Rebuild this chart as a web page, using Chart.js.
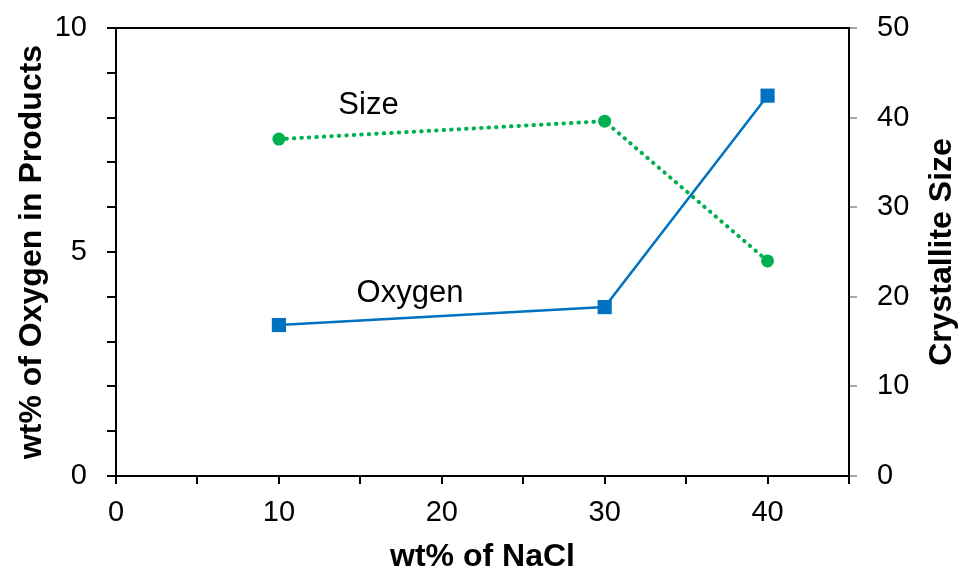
<!DOCTYPE html>
<html>
<head>
<meta charset="utf-8">
<script src="https://cdn.jsdelivr.net/npm/chart.js@4"></script>
<style>
  html, body { margin: 0; padding: 0; background: #fff; }
  canvas { display: block; }
</style>
</head>
<body>
<canvas id="chart" width="959" height="573"></canvas>
<script>
/* ── data ── */
const naclPct = [10, 30, 40];
const oxygenPct = [3.37, 3.77, 8.49];
const crystalliteSize = [37.6, 39.6, 24.0];

const xTitle = 'wt% of NaCl';
const yLeftTitle = 'wt% of Oxygen in Products';
const yRightTitle = 'Crystallite Size';

// in-plot series labels, positioned in data units
const seriesLabels = [
  { text: 'Size', x: 15.5, y: 41.4, axis: 'y2' },
  { text: 'Oxygen', x: 18.05, y: 4.08, axis: 'y' }
];

const BLUE = '#0070C0';
const GREEN = '#00B050';
const FONT = "'Liberation Sans', Arial, sans-serif";

/* frame top line, axis titles and the in-plot labels */
const extras = {
  id: 'extras',
  afterDraw(chart) {
    const { ctx, chartArea: a, scales } = chart;
    ctx.save();
    ctx.strokeStyle = '#000';
    ctx.lineWidth = 2;
    ctx.beginPath();
    ctx.moveTo(a.left - 1, a.top);
    ctx.lineTo(a.right + 1, a.top);
    ctx.stroke();

    ctx.fillStyle = '#000';
    ctx.textAlign = 'center';
    ctx.textBaseline = 'middle';
    ctx.font = 'bold 32px ' + FONT;
    const midY = (a.top + a.bottom) / 2;
    ctx.fillText(xTitle, (a.left + a.right) / 2, 557);

    ctx.save();
    ctx.translate(32, midY);
    ctx.rotate(-Math.PI / 2);
    ctx.fillText(yLeftTitle, 0, 0);
    ctx.restore();

    ctx.save();
    ctx.translate(942, midY);
    ctx.rotate(-Math.PI / 2);
    ctx.fillText(yRightTitle, 0, 0);
    ctx.restore();

    ctx.font = '31px ' + FONT;
    seriesLabels.forEach(l => {
      ctx.fillText(l.text, scales.x.getPixelForValue(l.x), scales[l.axis].getPixelForValue(l.y));
    });
    ctx.restore();
  }
};

const tickFont = { family: FONT, size: 29 };

function fixWidth(w) {
  return s => { s.width = w; s.paddingTop = 0; s.paddingBottom = 0; };
}

new Chart(document.getElementById('chart'), {
  type: 'line',
  data: {
    datasets: [
      {
        label: 'Oxygen',
        data: naclPct.map((x, i) => ({ x, y: oxygenPct[i] })),
        yAxisID: 'y',
        borderColor: BLUE,
        backgroundColor: BLUE,
        borderWidth: 2.5,
        pointStyle: 'rect',
        pointRadius: 10,
        pointBorderWidth: 0,
        tension: 0,
        fill: false
      },
      {
        label: 'Size',
        data: naclPct.map((x, i) => ({ x, y: crystalliteSize[i] })),
        yAxisID: 'y2',
        borderColor: GREEN,
        backgroundColor: GREEN,
        borderWidth: 4,
        borderDash: [0.5, 7],
        borderCapStyle: 'round',
        pointStyle: 'circle',
        pointRadius: 6.5,
        pointBorderWidth: 0,
        tension: 0,
        fill: false
      }
    ]
  },
  options: {
    responsive: false,
    animation: false,
    layout: { padding: { top: 28, left: 0, right: 0, bottom: 0 } },
    plugins: { legend: { display: false }, tooltip: { enabled: false } },
    scales: {
      x: {
        type: 'linear',
        position: 'bottom',
        min: 0, max: 45,
        afterFit: s => { s.height = 97; s.paddingLeft = 0; s.paddingRight = 0; },
        border: { color: '#000', width: 2 },
        grid: { drawOnChartArea: false, drawTicks: true, tickLength: 8, color: '#000', lineWidth: 2 },
        ticks: {
          stepSize: 5, padding: 12, color: '#000', font: tickFont, maxRotation: 0,
          callback: v => v % 10 === 0 ? v : ''
        }
      },
      y: {
        position: 'left',
        min: 0, max: 10,
        afterFit: fixWidth(116),
        border: { color: '#000', width: 2 },
        grid: { drawOnChartArea: false, drawTicks: true, tickLength: 9, color: '#000', lineWidth: 2 },
        ticks: {
          stepSize: 1, padding: 20, color: '#000', font: tickFont,
          callback: v => v % 5 === 0 ? v : ''
        }
      },
      y2: {
        position: 'right',
        min: 0, max: 50,
        afterFit: fixWidth(110),
        border: { color: '#000', width: 2 },
        grid: { drawOnChartArea: false, drawTicks: true, tickLength: 8, color: '#a6a6a6', lineWidth: 2 },
        ticks: { stepSize: 10, padding: 20, color: '#000', font: tickFont }
      }
    }
  },
  plugins: [extras]
});
</script>
</body>
</html>
